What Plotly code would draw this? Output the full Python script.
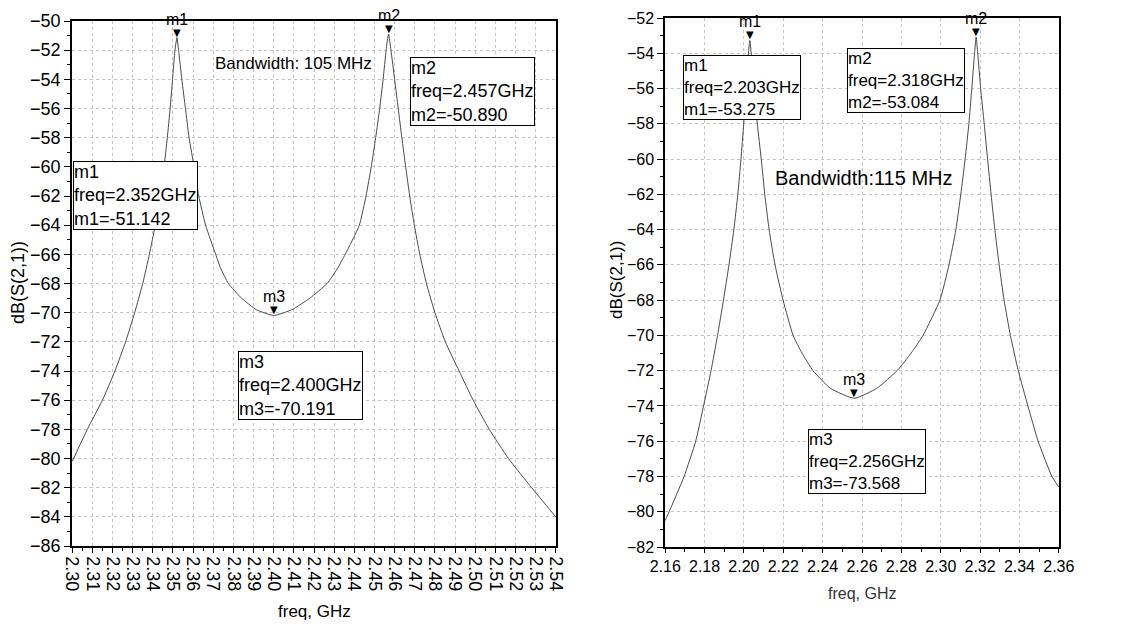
import plotly.graph_objects as go

# ---------------- data ----------------
left_freq = [2.300, 2.3075, 2.3150, 2.3212, 2.3265, 2.3310, 2.3350, 2.3383, 2.3412, 2.3436,
             2.3456, 2.3472, 2.3486, 2.3498, 2.3510, 2.352, 2.3528, 2.3544, 2.3562, 2.358,
             2.3605, 2.3628, 2.3662, 2.3712, 2.3738, 2.3775, 2.3840, 2.3915, 2.400, 2.4090,
             2.4180, 2.4265, 2.4315, 2.4355, 2.4425, 2.4458, 2.4484, 2.4506, 2.4526, 2.4543,
             2.4558, 2.457, 2.4582, 2.4600, 2.4618, 2.4636, 2.4655, 2.4675, 2.4698, 2.4725,
             2.4758, 2.4800, 2.4852, 2.4920, 2.4990, 2.5070, 2.5165, 2.5280, 2.5400]
left_db = [-80.2, -78, -76, -74, -72, -70, -68, -66, -64, -62,
           -60, -58, -56, -54, -52, -51.142, -52, -54, -56, -58,
           -60, -62, -64, -66, -67, -68, -69, -69.8, -70.191, -69.8,
           -69, -68, -67, -66, -64, -62, -60, -58, -56, -54,
           -52, -50.890, -52, -54, -56, -58, -60, -62, -64, -66,
           -68, -70, -72, -74, -76, -78, -80, -82, -84]

right_freq = [2.160, 2.162, 2.1696, 2.1755, 2.1795, 2.1833, 2.1866, 2.1896, 2.1924, 2.1949,
              2.1969, 2.1985, 2.1999, 2.2011, 2.2023, 2.203, 2.2037, 2.2050, 2.2068, 2.2088,
              2.2106, 2.2128, 2.2158, 2.2199, 2.2250, 2.2295, 2.2351, 2.2440, 2.256, 2.2675,
              2.2778, 2.2850, 2.2910, 2.2996, 2.3042, 2.3077, 2.3102, 2.3124, 2.3143, 2.3158,
              2.3172, 2.318, 2.3188, 2.3203, 2.3221, 2.3238, 2.3256, 2.3275, 2.3297, 2.3322,
              2.3354, 2.3394, 2.3443, 2.3495, 2.3565, 2.360]
right_db = [-80.5, -80, -78, -76, -74, -72, -70, -68, -66, -64,
            -62, -60, -58, -56, -54, -53.275, -54, -56, -58, -60,
            -62, -64, -66, -68, -70, -71, -72, -73, -73.568, -73,
            -72, -71, -70, -68, -66, -64, -62, -60, -58, -56,
            -54, -53.084, -54, -56, -58, -60, -62, -64, -66, -68,
            -70, -72, -74, -76, -78, -78.6]

marker_names = ["m1", "m2", "m3"]
left_marker_freq = [2.352, 2.457, 2.400]
left_marker_db = [-51.142, -50.890, -70.191]
right_marker_freq = [2.203, 2.318, 2.256]
right_marker_db = [-53.275, -53.084, -73.568]

left_bandwidth = "Bandwidth: 105 MHz"
right_bandwidth = "Bandwidth:115 MHz"
x_title = "freq, GHz"
y_title = "dB(S(2,1))"

# ---------------- figure ----------------
# the page body has an 8 px margin, so the figure is drawn 16 px smaller
OFF = 8
W, H = 1125 - 2 * OFF, 628 - 2 * OFF
FONT = "Liberation Sans, Arial, sans-serif"


def px_x(p):
    return (p - OFF) / W


def px_y(p):
    return 1 - (p - OFF) / H


line_style = dict(color="#4a4a4a", width=1, shape="spline", smoothing=0.5)
fig = go.Figure()
fig.add_trace(go.Scatter(x=left_freq, y=left_db, mode="lines", line=line_style,
                         xaxis="x", yaxis="y", showlegend=False, hoverinfo="skip"))
fig.add_trace(go.Scatter(x=right_freq, y=right_db, mode="lines", line=line_style,
                         xaxis="x2", yaxis="y2", showlegend=False, hoverinfo="skip"))

common_axis = dict(showline=True, mirror=True, linecolor="black", linewidth=1.5,
                   showgrid=True, gridcolor="#c4c4c4", griddash="dot", gridwidth=1,
                   zeroline=False, ticks="outside", tickcolor="black",
                   automargin=False)

fig.update_layout(
    width=W, height=H,
    margin=dict(l=0, r=0, t=0, b=0),
    paper_bgcolor="white", plot_bgcolor="white",
    font=dict(family=FONT, color="black"),
    xaxis=dict(domain=[px_x(72), px_x(556)], range=[2.2999, 2.5401], dtick=0.01,
               tick0=2.30, tickformat=".2f", tickangle=90, ticklen=5,
               tickfont=dict(size=18, family=FONT), anchor="y",
               minor=dict(dtick=0.005, ticks="outside", ticklen=3, tickcolor="black",
                          showgrid=False), **common_axis),
    yaxis=dict(domain=[px_y(546), px_y(21)], range=[-86, -50], dtick=2, ticklen=6,
               tickfont=dict(size=18, family=FONT), anchor="x",
               minor=dict(dtick=1, ticks="outside", ticklen=3, tickcolor="black",
                          showgrid=False), **common_axis),
    xaxis2=dict(domain=[px_x(665), px_x(1059)], range=[2.1599, 2.3601], dtick=0.02,
                tick0=2.16, tickformat=".2f", ticklen=4,
                tickfont=dict(size=16, family=FONT), anchor="y2",
                minor=dict(dtick=0.01, ticks="outside", ticklen=3, tickcolor="black",
                           showgrid=False), **common_axis),
    yaxis2=dict(domain=[px_y(547), px_y(18)], range=[-82, -52], dtick=2, ticklen=6,
                tickfont=dict(size=16, family=FONT), anchor="x2",
                minor=dict(dtick=1, ticks="outside", ticklen=3, tickcolor="black",
                           showgrid=False), **common_axis),
)

annotations = []


# axis titles (explicit anchors: paper 'auto' anchoring would shift them)
def paper_text(text, x, y, size, angle=0, color="black"):
    return dict(text=text, xref="paper", yref="paper", x=px_x(x), y=px_y(y),
                xanchor="center", yanchor="middle", showarrow=False, textangle=angle,
                font=dict(size=size, color=color))


annotations.append(paper_text(x_title, 314, 611, 17))
annotations.append(paper_text(x_title, 862, 593, 16, color="#333"))
annotations.append(paper_text(y_title, 18, 283, 18, angle=-90))
annotations.append(paper_text(y_title, 616, 280, 17, angle=-90))

# bandwidth labels
annotations.append(dict(text=left_bandwidth, xref="x", yref="y", x=2.4097, y=-52.9,
                        showarrow=False, font=dict(size=17)))
annotations.append(dict(text=right_bandwidth, xref="x2", yref="y2", x=2.2612, y=-61.06,
                        showarrow=False, font=dict(size=20)))

# marker triangles and labels
for (xr, yr, mf, md, fs) in [("x", "y", left_marker_freq, left_marker_db, 16),
                             ("x2", "y2", right_marker_freq, right_marker_db, 16)]:
    for name, f, v in zip(marker_names, mf, md):
        annotations.append(dict(text="▼", xref=xr, yref=yr, x=f, y=v, showarrow=False,
                                yanchor="bottom", yshift=-2,
                                font=dict(size=10, family="DejaVu Sans")))
        annotations.append(dict(text=name, xref=xr, yref=yr, x=f, y=v, showarrow=False,
                                yanchor="bottom", yshift=8, font=dict(size=fs)))

# marker readout boxes
left_box_pos = [(2.3003, -59.6), (2.4677, -52.5), (2.3824, -72.6)]
right_box_pos = [(2.1691, -54.08), (2.2524, -53.7), (2.2325, -75.33)]
for (xr, yr, mf, md, pos, fs) in [("x", "y", left_marker_freq, left_marker_db, left_box_pos, 18),
                                  ("x2", "y2", right_marker_freq, right_marker_db, right_box_pos, 17)]:
    for name, f, v, (bx, by) in zip(marker_names, mf, md, pos):
        txt = f"{name}<br>freq={f:.3f}GHz<br>{name}={v:.3f}"
        annotations.append(dict(text=txt, xref=xr, yref=yr, x=bx, y=by, showarrow=False,
                                xanchor="left", yanchor="top", align="left",
                                bordercolor="black", borderwidth=1, borderpad=0,
                                bgcolor="white", font=dict(size=fs)))

fig.update_layout(annotations=annotations)
fig.write_html("out.html")
